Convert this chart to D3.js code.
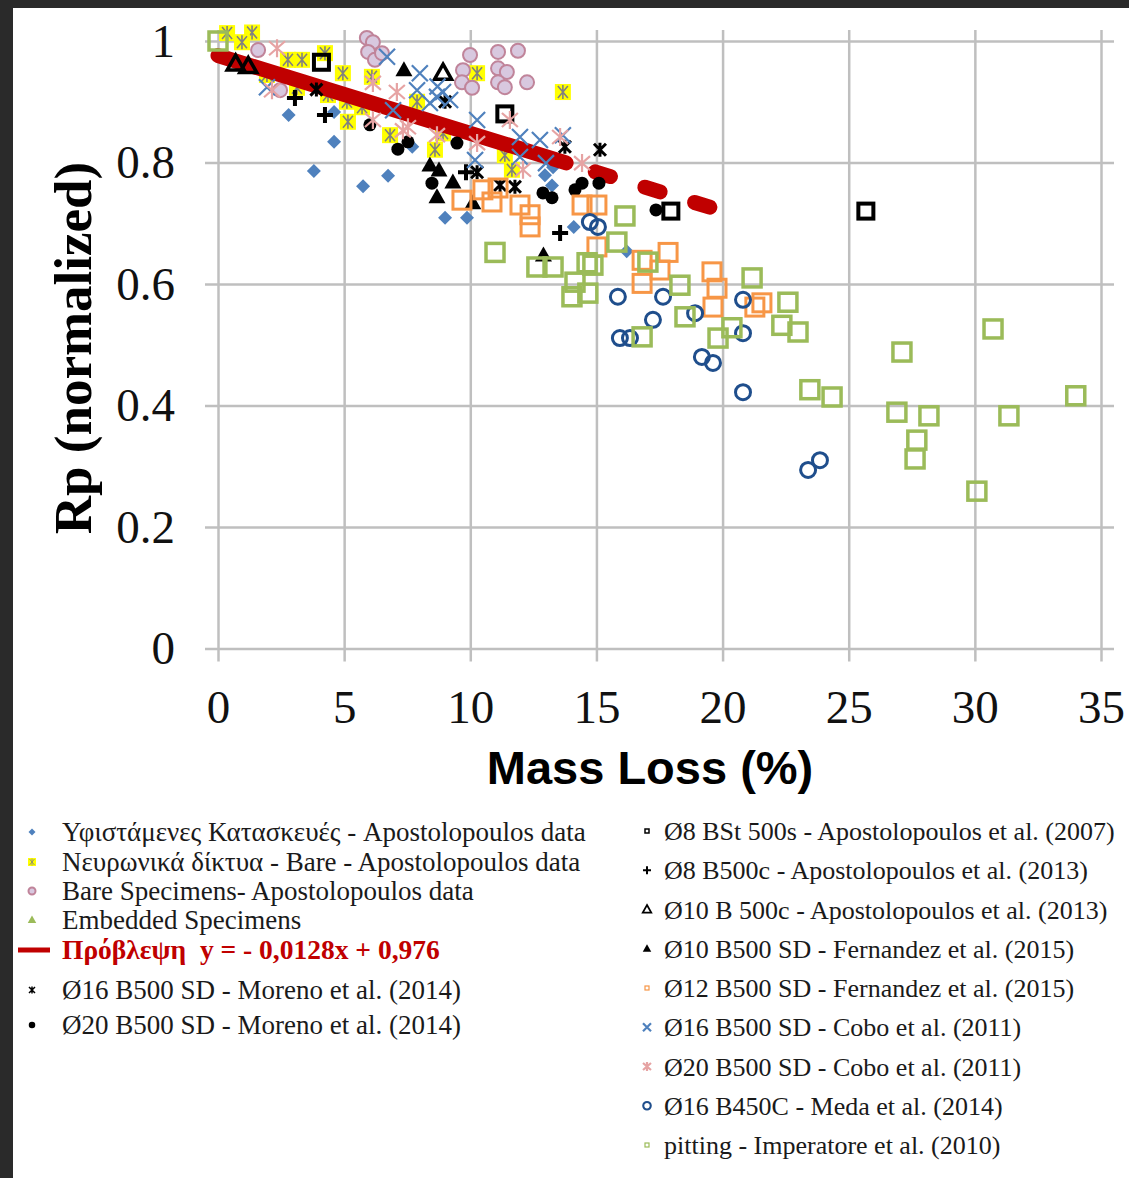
<!DOCTYPE html>
<html>
<head>
<meta charset="utf-8">
<script src="https://cdn.jsdelivr.net/npm/d3@7"></script>
<style>
  body { margin: 0; background: #2a2a2a; }
  svg { display: block; }
</style>
</head>
<body>
<svg id="chart" width="1129" height="1178"></svg>
<script>
// axis ticks
var xTicks = [0, 5, 10, 15, 20, 25, 30, 35];
var yTicks = [0, 0.2, 0.4, 0.6, 0.8, 1];
var yTickLabels = ["0", "0.2", "0.4", "0.6", "0.8", "1"];

// prediction  y = -0.0128x + 0.976
var predSlope = -0.0128, predIntercept = 0.976;
var predSolid = [0, 13.8];
var predDashed = [14.95, 19.7];

// series [mass loss %, Rp]
var existing = [[2.8,0.878],[4.6,0.883],[4.6,0.834],[3.8,0.786],[5.75,0.761],[6.74,0.778],[7.7,0.826],
  [9.0,0.709],[9.87,0.709],[12.96,0.779],[13.28,0.792],[13.24,0.762],[14.1,0.694],[16.2,0.654]];
var neural = [[0.36,1.013],[1.35,1.014],[0.95,0.998],[2.77,0.969],[3.33,0.969],[4.24,0.98],[1.94,0.944],
  [3.13,0.923],[4.95,0.947],[6.1,0.941],[4.36,0.911],[5.11,0.9],[5.71,0.891],[5.15,0.867],[6.82,0.845],
  [7.89,0.9],[8.6,0.821],[10.27,0.947],[13.67,0.916],[8.92,0.848],[11.37,0.812],[11.65,0.788]];
var bare = [[9.99,0.977],[11.1,0.982],[11.89,0.984],[9.71,0.952],[11.1,0.955],[11.45,0.949],[9.67,0.932],
  [10.07,0.923],[11.1,0.932],[11.37,0.924],[12.25,0.932],[5.9,1.005],[6.14,0.998],[5.95,0.982],
  [6.22,0.969],[1.59,0.985],[2.46,0.919],[6.5,0.98]];
var embedded = [];
var moreno16 = [[10.27,0.784],[11.18,0.763],[11.77,0.76],[15.14,0.821],[13.75,0.826],[3.9,0.92],[9.0,0.9]];
var moreno20 = [[7.13,0.822],[7.53,0.834],[6.02,0.862],[8.48,0.766],[12.88,0.75],[13.24,0.742],[14.15,0.755],
  [14.43,0.766],[15.1,0.766],[17.36,0.722],[9.47,0.832]];
var bst500s = [[11.37,0.88],[17.95,0.72],[25.68,0.72],[4.1,0.965]];
var b500c8 = [[3.05,0.906],[4.24,0.878],[9.83,0.784],[13.56,0.684]];
var b500c10 = [[0.7,0.962],[1.2,0.958],[8.92,0.947]];
var fern10 = [[7.37,0.952],[8.4,0.795],[8.76,0.787],[9.31,0.767],[8.68,0.743],[10.1,0.733],[12.9,0.647]];
var fern12 = [[9.67,0.738],[10.5,0.755],[10.86,0.735],[11.1,0.758],[11.97,0.73],[12.37,0.714],[12.37,0.694],
  [14.43,0.73],[15.02,0.73],[15.02,0.661],[17.84,0.652],[16.81,0.639],[17.52,0.623],[16.81,0.601],
  [19.58,0.62],[19.78,0.593],[19.62,0.562],[21.56,0.569],[21.28,0.562]];
var cobo16 = [[8.0,0.947],[8.92,0.916],[9.2,0.903],[8.7,0.925],[10.27,0.87],[11.97,0.842],[12.76,0.837],
  [13.67,0.845],[10.19,0.804],[11.97,0.809],[13.0,0.799],[6.7,0.974],[7.89,0.919],[8.4,0.898],
  [6.94,0.886],[8.68,0.908],[1.94,0.924]];
var cobo20 = [[2.34,0.988],[6.14,0.931],[7.09,0.916],[7.33,0.853],[6.14,0.87],[7.53,0.858],[8.68,0.845],
  [10.27,0.832],[11.57,0.87],[13.56,0.842],[14.43,0.799],[12.09,0.788],[2.14,0.919]];
var meda = [[14.74,0.702],[15.06,0.694],[15.85,0.579],[17.64,0.579],[15.93,0.511],[16.33,0.511],[17.24,0.541],
  [18.91,0.552],[19.18,0.48],[19.62,0.47],[20.81,0.574],[20.81,0.519],[20.81,0.422],[23.39,0.294],[23.86,0.31]];
var pitting = [[0,1.0],[10.98,0.652],[12.64,0.628],[13.28,0.628],[14.63,0.635],[14.86,0.631],[14.15,0.603],
  [14.03,0.579],[14.66,0.585],[16.13,0.712],[15.81,0.669],[17.04,0.636],[18.31,0.598],[18.51,0.546],
  [16.81,0.513],[19.82,0.511],[20.37,0.528],[21.17,0.61],[22.59,0.57],[22.35,0.532],[22.99,0.521],
  [23.46,0.426],[24.34,0.414],[27.11,0.488],[26.91,0.389],[28.18,0.383],[31.35,0.383],[30.72,0.526],
  [34.0,0.416],[27.7,0.343],[27.63,0.312],[30.08,0.259]];

var svg = d3.select("#chart");
svg.append("rect").attr("x", 13).attr("y", 8).attr("width", 1116).attr("height", 1170).attr("fill", "#fff");

var x = d3.scaleLinear().domain([0, 35]).range([218, 1101]);
var y = d3.scaleLinear().domain([0, 1]).range([648.5, 41]);

var grid = "#bfbfbf";
// vertical grid + x labels
var xAxis = svg.append("g")
  .attr("transform", "translate(0," + (y(0) + 13) + ")")
  .call(d3.axisBottom(x).tickValues(xTicks).tickSize(-(y(0) - y(1) + 24)).tickPadding(28).tickFormat(d3.format("d")));
xAxis.select(".domain").remove();
xAxis.selectAll("line").attr("stroke", grid).attr("stroke-width", 2.5);
xAxis.selectAll("text").attr("font-family", "Liberation Serif").attr("font-size", 47).attr("fill", "#111");

var yAxis = svg.append("g")
  .attr("transform", "translate(" + (x(0) - 13) + ",0)")
  .call(d3.axisLeft(y).tickValues(yTicks).tickSize(-(x(35) - x(0) + 26)).tickPadding(30)
    .tickFormat(function(d, i) { return yTickLabels[i]; }));
yAxis.select(".domain").remove();
yAxis.selectAll("line").attr("stroke", grid).attr("stroke-width", 2.5);
yAxis.selectAll("text").attr("font-family", "Liberation Serif").attr("font-size", 47).attr("fill", "#111");

svg.append("text").attr("x", 650).attr("y", 784).attr("text-anchor", "middle")
  .attr("font-family", "Liberation Sans").attr("font-weight", "bold").attr("font-size", 47)
  .attr("fill", "#000").text("Mass Loss (%)");
svg.append("text").attr("transform", "translate(91,348) rotate(-90)").attr("text-anchor", "middle")
  .attr("font-family", "Liberation Serif").attr("font-weight", "bold").attr("font-size", 53)
  .attr("fill", "#000").text("Rp (normalized)");

// marker painters
function diamond(g, s) {
  g.append("path").attr("d", d3.line()([[0,-7*s],[7*s,0],[0,7*s],[-7*s,0]]) + "Z").attr("fill", "#4f81bd");
}
function neuralMark(g, s) {
  g.append("rect").attr("x", -8*s).attr("y", -8*s).attr("width", 16*s).attr("height", 16*s).attr("fill", "#ffff00");
  g.append("path").attr("d", "M0," + (-7*s) + "V" + (7*s) + "M" + (-5*s) + "," + (-6*s) + "L" + (5*s) + "," + (6*s) +
    "M" + (5*s) + "," + (-6*s) + "L" + (-5*s) + "," + (6*s)).attr("stroke", "#808080").attr("stroke-width", 1.6*s);
}
function bareMark(g, s) {
  g.append("circle").attr("r", 7*s).attr("fill", "#d8c8df").attr("stroke", "#c0849a").attr("stroke-width", 2);
}
function moreno16Mark(g, s) {
  g.append("path").attr("d", "M0," + (-7*s) + "V" + (7*s) + "M" + (-6*s) + "," + (-6*s) + "L" + (6*s) + "," + (6*s) +
    "M" + (6*s) + "," + (-6*s) + "L" + (-6*s) + "," + (6*s)).attr("stroke", "#000").attr("stroke-width", 3*s);
}
function dotMark(g, s) {
  g.append("circle").attr("r", 6.5*s).attr("fill", "#000");
}
function squareMark(color, half, sw) {
  return function(g, s) {
    g.append("rect").attr("x", -half*s).attr("y", -half*s).attr("width", 2*half*s).attr("height", 2*half*s)
      .attr("fill", "none").attr("stroke", color).attr("stroke-width", sw*Math.max(s, 0.6));
  };
}
function plusMark(g, s) {
  g.append("path").attr("d", "M" + (-8*s) + ",0H" + (8*s) + "M0," + (-8*s) + "V" + (8*s))
    .attr("stroke", "#000").attr("stroke-width", 4*s);
}
function triPath(s) {
  return d3.line()([[0,-9*s],[8.5*s,6*s],[-8.5*s,6*s]]) + "Z";
}
function openTri(g, s) {
  g.append("path").attr("d", triPath(s)).attr("fill", "none").attr("stroke", "#000").attr("stroke-width", 3.5*s);
}
function fillTri(g, s) {
  g.append("path").attr("d", triPath(s)).attr("fill", "#000");
}
function xMark(color) {
  return function(g, s) {
    g.append("path").attr("d", "M" + (-8*s) + "," + (-8*s) + "L" + (8*s) + "," + (8*s) + "M" + (8*s) + "," + (-8*s) + "L" + (-8*s) + "," + (8*s))
      .attr("stroke", color).attr("stroke-width", 2.2);
  };
}
function starMark(g, s) {
  g.append("path").attr("d", "M0," + (-9*s) + "V" + (9*s) + "M" + (-8*s) + "," + (-7*s) + "L" + (8*s) + "," + (7*s) +
    "M" + (8*s) + "," + (-7*s) + "L" + (-8*s) + "," + (7*s)).attr("stroke", "#e6a3a3").attr("stroke-width", 2.2);
}
function circleMark(g, s) {
  g.append("circle").attr("r", 7.5*s).attr("fill", "none").attr("stroke", "#1f4e8c").attr("stroke-width", 3*Math.max(s, 0.7));
}
function greenTri(g, s) {
  g.append("path").attr("d", triPath(s)).attr("fill", "#9bbb59");
}

function plotSeries(data, painter) {
  svg.append("g").selectAll("g").data(data).enter().append("g")
    .attr("transform", function(d) { return "translate(" + x(d[0]) + "," + y(d[1]) + ")"; })
    .each(function() { painter(d3.select(this), 1); });
}

var predLine = d3.line().x(function(d) { return x(d); }).y(function(d) { return y(predSlope * d + predIntercept); });

plotSeries(existing, diamond);
plotSeries(neural, neuralMark);
plotSeries(bare, bareMark);
plotSeries(embedded, greenTri);
svg.append("path").attr("d", predLine(predSolid)).attr("stroke", "#c00000").attr("stroke-width", 15)
  .attr("stroke-linecap", "round").attr("fill", "none");
svg.append("path").attr("d", predLine(predDashed)).attr("stroke", "#c00000").attr("stroke-width", 15)
  .attr("stroke-linecap", "round").attr("stroke-dasharray", "16,36").attr("fill", "none");
plotSeries(moreno16, moreno16Mark);
plotSeries(moreno20, dotMark);
plotSeries(bst500s, squareMark("#000", 7.5, 4));
plotSeries(b500c8, plusMark);
plotSeries(b500c10, openTri);
plotSeries(fern10, fillTri);
plotSeries(fern12, squareMark("#f79646", 9, 3));
plotSeries(cobo16, xMark("#4f81bd"));
plotSeries(cobo20, starMark);
plotSeries(meda, circleMark);
plotSeries(pitting, squareMark("#9bbb59", 9, 3.5));

// legend
var legendLeft = [
  { label: "Υφιστάμενες Κατασκευές - Apostolopoulos data", mark: diamond },
  { label: "Νευρωνικά δίκτυα - Bare - Apostolopoulos data", mark: neuralMark },
  { label: "Bare Specimens- Apostolopoulos data", mark: bareMark },
  { label: "Embedded Specimens", mark: greenTri },
  { label: "Πρόβλεψη\u00a0\u00a0y = - 0,0128x + 0,976", mark: null },
  { label: "Ø16 B500 SD - Moreno et al. (2014)", mark: moreno16Mark },
  { label: "Ø20 B500 SD - Moreno et al. (2014)", mark: dotMark }
];
var legendLeftY = [832, 862, 891, 920, 950, 990, 1025];
var legendRight = [
  { label: "Ø8 BSt 500s - Apostolopoulos et al. (2007)", mark: squareMark("#000", 4, 2.5) },
  { label: "Ø8 B500c - Apostolopoulos et al. (2013)", mark: plusMark },
  { label: "Ø10 B 500c - Apostolopoulos et al. (2013)", mark: openTri },
  { label: "Ø10 B500 SD - Fernandez et al. (2015)", mark: fillTri },
  { label: "Ø12 B500 SD - Fernandez et al. (2015)", mark: squareMark("#f79646", 4, 2) },
  { label: "Ø16 B500 SD - Cobo et al. (2011)", mark: xMark("#4f81bd") },
  { label: "Ø20 B500 SD - Cobo et al. (2011)", mark: starMark },
  { label: "Ø16 B450C - Meda et al. (2014)", mark: circleMark },
  { label: "pitting - Imperatore et al. (2010)", mark: squareMark("#9bbb59", 4, 2) }
];

legendLeft.forEach(function(item, i) {
  var g = svg.append("g").attr("transform", "translate(32," + legendLeftY[i] + ")");
  var t = g.append("text").attr("x", 30).attr("y", 9).attr("font-family", "Liberation Serif")
    .attr("font-size", 27).attr("fill", "#1a1a1a").text(item.label);
  if (item.mark) {
    item.mark(g.append("g"), 0.5);
  } else {
    g.append("line").attr("x1", -14).attr("x2", 18).attr("stroke", "#c00000").attr("stroke-width", 5);
    t.attr("font-weight", "bold").attr("fill", "#c00000").attr("font-size", 27.5);
  }
});
legendRight.forEach(function(item, i) {
  var g = svg.append("g").attr("transform", "translate(647," + (831 + i * 39.25) + ")");
  g.append("text").attr("x", 17).attr("y", 9).attr("font-family", "Liberation Serif")
    .attr("font-size", 26).attr("fill", "#1a1a1a").text(item.label);
  item.mark(g.append("g"), 0.5);
});
</script>
</body>
</html>
